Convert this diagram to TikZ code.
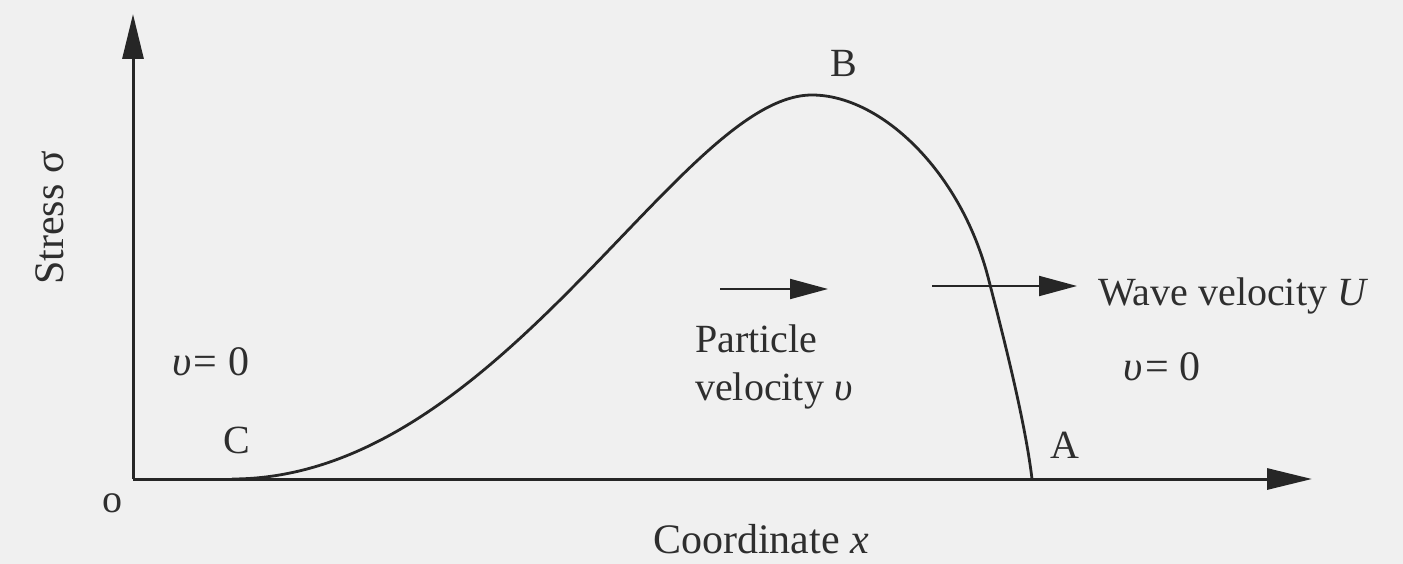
\documentclass[tikz,border=0pt]{standalone}
\usepackage{fontspec}
\setmainfont{Liberation Serif}
\usetikzlibrary{arrows.meta}
\begin{document}
\begin{tikzpicture}[x=1pt,y=-1pt,
  lbl/.style={font=\fontsize{40}{46}\selectfont, text=black!82, inner sep=0pt},
  axis/.style={line width=3pt, draw=black!85, -{Triangle[length=45pt,width=21pt]}},
  vel/.style={line width=2pt, draw=black!85, -{Triangle[length=38pt,width=20pt]}},
  curve/.style={line width=2.8pt, draw=black!85, line join=round}]
\fill[black!6] (0,0) rectangle (1403,564);
\useasboundingbox (0,0) rectangle (1403,564);
% axes
\coordinate (O) at (133,479);
\coordinate (ytip) at (133,14);
\coordinate (xtip) at (1312,479);
\draw[axis] (O) -- (ytip);
\draw[axis] (O) -- (xtip);
% curve C -> B -> A
\coordinate (C) at (232,479);
\coordinate (B) at (812,95);
\coordinate (D) at (988,277);
\coordinate (A) at (1032,479);
\draw[curve] (C) .. controls (500,479) and (680,95) .. (B)
  .. controls (880,95) and (960,170) .. (D)
  .. controls (1002,331) and (1025,420) .. (A);
% velocity arrows
\coordinate (p1) at (720,289);
\coordinate (p2) at (828,289);
\draw[vel] (p1) -- (p2);
\coordinate (w1) at (932,286);
\coordinate (w2) at (1077,286);
\draw[vel] (w1) -- (w2);
% labels
\node[lbl, anchor=base] (Blbl) at (844,77) {B};
\node[lbl, anchor=base] (Clbl) at (237,453) {C};
\node[lbl, anchor=base] (Albl) at (1065,458) {A};
\node[lbl, anchor=center] (olbl) at (112,503) {o};
\node[lbl, anchor=base west, font=\fontsize{42}{46}\selectfont] (v0l) at (172,375) {\textit{υ}\hspace{0.06em}=\hspace{0.25em}0};
\node[lbl, anchor=base west, font=\fontsize{42}{46}\selectfont] (v0r) at (1123,380) {\textit{υ}\hspace{0.06em}=\hspace{0.25em}0};
\node[lbl, anchor=base west] (part) at (695,352) {Particle};
\node[lbl, anchor=base west] (pvel) at (695,400) {velocity \textit{υ}};
\node[lbl, anchor=base west] (wave) at (1098,305) {Wave velocity \textit{U}};
\node[lbl, anchor=base, font=\fontsize{42}{46}\selectfont] (xlbl) at (761,553) {Coordinate \textit{x}};
\node[lbl, anchor=center, rotate=90, font=\fontsize{42}{46}\selectfont] (ylbl) at (50,218) {Stress σ};
\end{tikzpicture}
\end{document}
